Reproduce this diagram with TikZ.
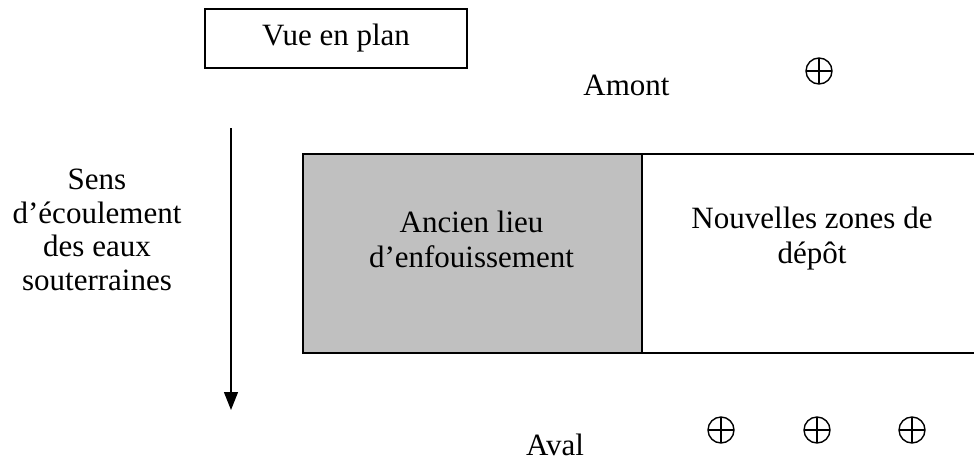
\documentclass[tikz,border=0pt]{standalone}
\usepackage{fontspec}
\setmainfont{Liberation Serif}
\usetikzlibrary{arrows.meta}
\definecolor{zonegray}{HTML}{C0C0C0}
\tikzset{
  txt/.style={inner sep=0pt, font=\fontsize{31}{35}\selectfont, align=center},
  frame/.style={draw=black, line width=1.6pt},
  oplus/.style={circle, draw=black, line width=1.4pt, inner sep=0pt, minimum size=26pt,
    path picture={\draw[line width=1.4pt] (path picture bounding box.north) -- (path picture bounding box.south)
      (path picture bounding box.west) -- (path picture bounding box.east);}},
  flow/.style={line width=1.3pt, -{Triangle[width=14pt,length=18pt]}}
}
\begin{document}
\begin{tikzpicture}[x=1pt,y=-1pt]
\useasboundingbox (0,0) rectangle (974,464);
\clip (0,0) rectangle (974,464);
% plan title box
\node[txt, frame, minimum width=262pt, minimum height=59pt] (title) at (336,38.5) {Vue en plan};
% zones
\node[frame, fill=zonegray, minimum width=339pt, minimum height=199pt, inner sep=0pt, anchor=north west] (old) at (302,153) {};
\node[frame, fill=white, minimum width=360pt, minimum height=199pt, inner sep=0pt, anchor=north west] (new) at (641,153) {};
\node[txt] (oldtxt) at (471.5,239) {Ancien lieu\\d’enfouissement};
\node[txt] (newtxt) at (812,239) {Nouvelles zones de\\dépôt};
% labels
\node[txt, anchor=base] (amont) at (626.5,95) {Amont};
\node[txt, anchor=base] (aval) at (555,455) {Aval};
\node[txt, font=\fontsize{31}{33.5}\selectfont] (sens) at (97,230) {Sens\\d’écoulement\\des eaux\\souterraines};
% flow arrow
\coordinate (atop) at (231,128);
\coordinate (abot) at (231,410);
\draw[flow] (atop) -- (abot);
% wells
\node[oplus] (w0) at (819,71) {};
\node[oplus] (w1) at (721,430) {};
\node[oplus] (w2) at (817,430) {};
\node[oplus] (w3) at (912,430) {};
\end{tikzpicture}
\end{document}
